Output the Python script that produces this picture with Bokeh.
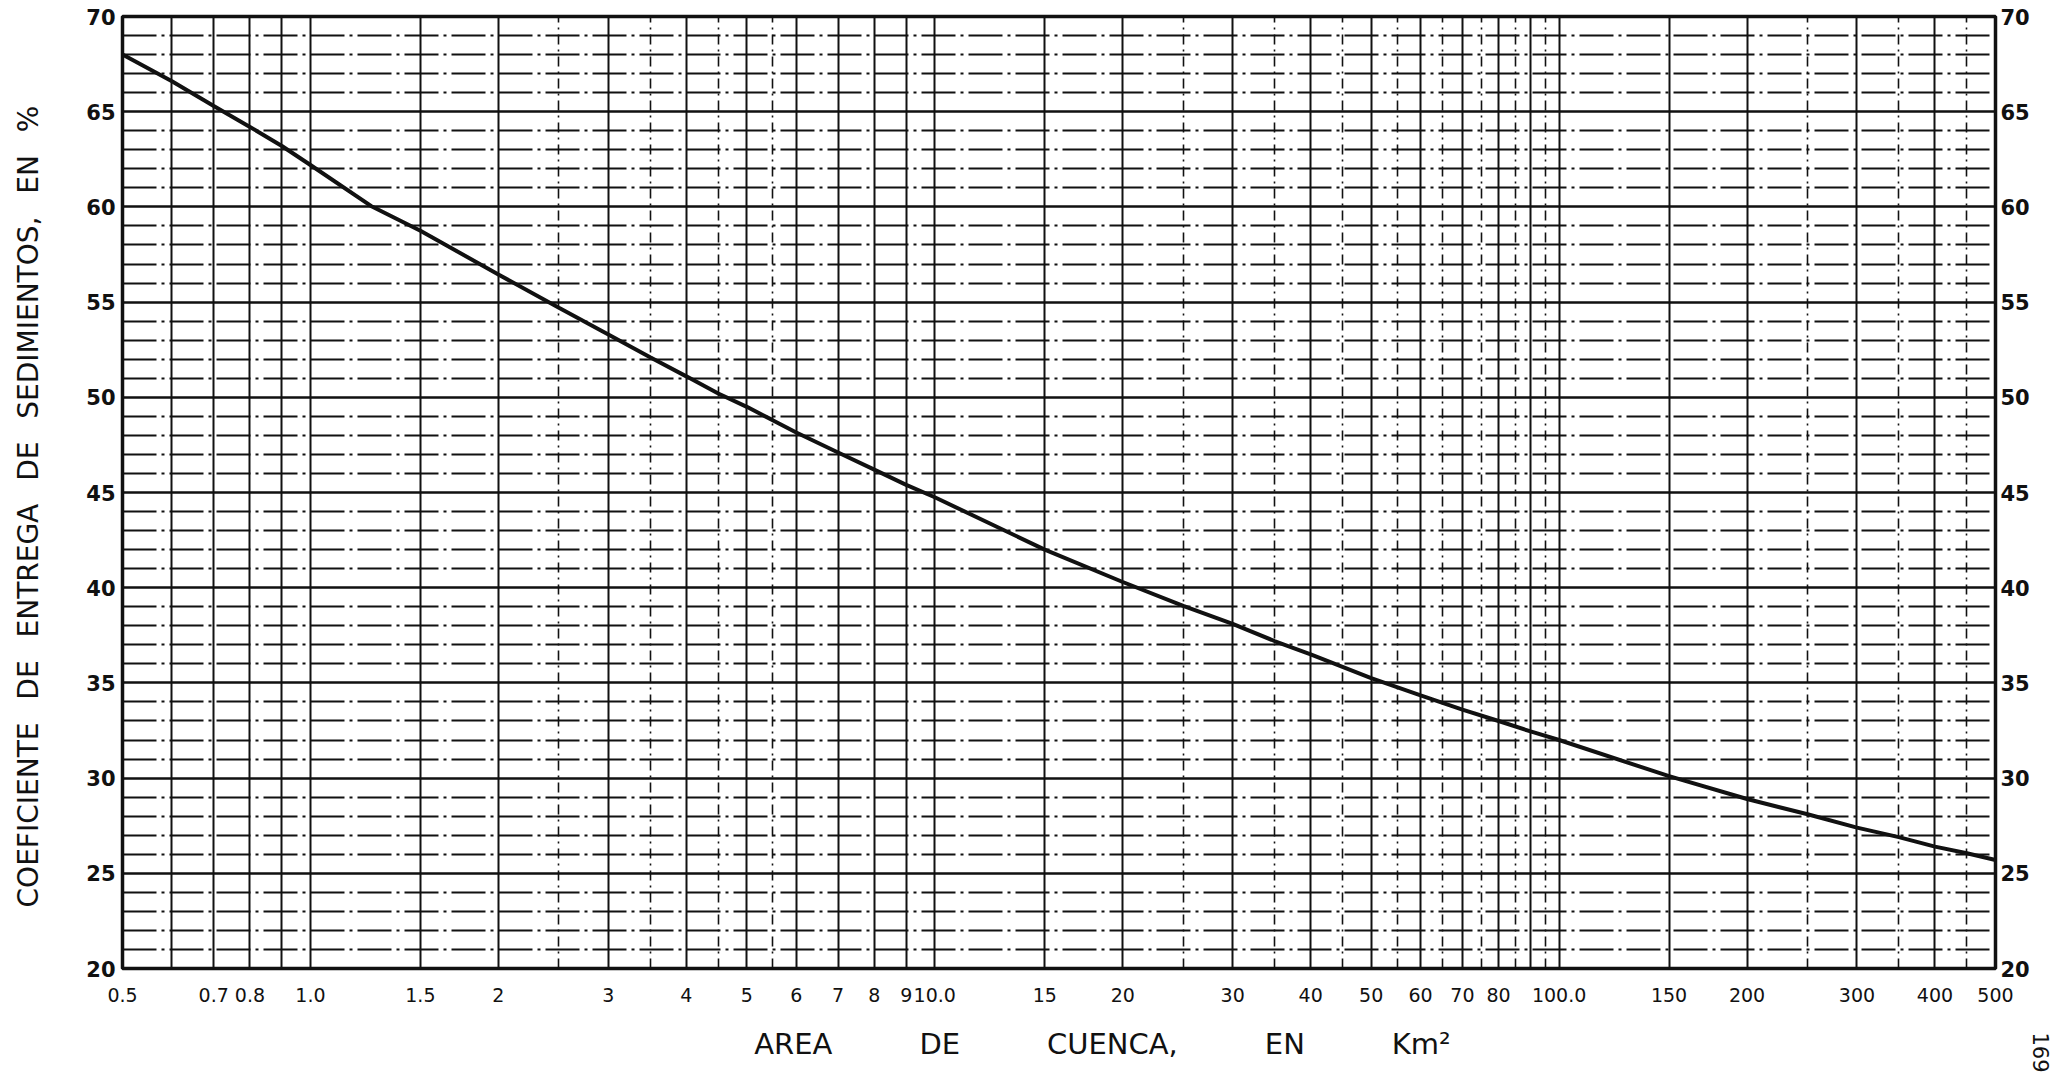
import numpy as np
from bokeh.plotting import figure
from bokeh.models import Range1d, FixedTicker, LinearAxis, Grid, Title
from bokeh.embed import file_html
from bokeh.resources import INLINE

# ---- data ----
area_km2 = [0.5, 0.6, 0.7, 0.8, 0.9, 1.0, 1.25, 1.5, 2, 2.5, 3, 3.5, 4, 4.5, 5, 5.5, 6, 7, 8, 9, 10,
            15, 20, 25, 30, 35, 40, 50, 60, 70, 80, 90, 100, 150, 200, 250, 300, 350, 400, 450, 500]
coef_pct = [68.0, 66.6, 65.3, 64.2, 63.2, 62.2, 60.05, 58.75, 56.45, 54.7, 53.3, 52.1, 51.1, 50.2, 49.5,
            48.8, 48.15, 47.1, 46.2, 45.4, 44.75, 42.0, 40.3, 39.05, 38.1, 37.2, 36.5, 35.25, 34.35,
            33.6, 33.0, 32.45, 32.0, 30.1, 28.9, 28.1, 27.4, 26.9, 26.4, 26.05, 25.7]

x_tick_values = [0.5, 0.7, 0.8, 1, 1.5, 2, 3, 4, 5, 6, 7, 8, 9, 10, 15, 20, 30, 40, 50, 60, 70, 80,
                 100, 150, 200, 300, 400, 500]
x_tick_labels = ["0.5", "0.7", "0.8", "1.0", "1.5", "2", "3", "4", "5", "6", "7", "8", "9", "10.0",
                 "15", "20", "30", "40", "50", "60", "70", "80", "100.0", "150", "200", "300", "400", "500"]
y_tick_values = [20, 25, 30, 35, 40, 45, 50, 55, 60, 65, 70]

x_grid_solid = [0.6, 0.7, 0.8, 0.9, 1, 1.5, 2, 3, 4, 5, 6, 7, 8, 9, 10, 15, 20, 30, 40, 50, 60, 70,
                80, 90, 100, 150, 200, 300, 400]
x_grid_dashed = [2.5, 3.5, 4.5, 5.5, 25, 35, 45, 55, 65, 75, 85, 95, 250, 350, 450]
y_grid_major = [25, 30, 35, 40, 45, 50, 55, 60, 65]
y_grid_minor = [21, 22, 23, 24, 26, 27, 28, 29, 31, 32, 33, 34, 36, 37, 38, 39, 41, 42, 43, 44,
                46, 47, 48, 49, 51, 52, 53, 54, 56, 57, 58, 59, 61, 62, 63, 64, 66, 67, 68, 69]

EM = "\u2003"
EN = "\u2002"
x_title = EM * 3 + (EM * 3).join(["AREA", "DE", "CUENCA,", "EN", "Km\u00b2"])
y_title = (" " + EN).join(["COEFICIENTE", "DE", "ENTREGA", "DE", "SEDIMIENTOS,", "EN", "%"]) + EM
page_number = "169"

INK = "#111111"
FONT = "DejaVu Sans"

p = figure(width=2051, height=1076, x_axis_type="log",
           x_range=Range1d(0.5, 500), y_range=Range1d(20, 70),
           output_backend="svg", toolbar_location=None,
           min_border_left=122, min_border_right=56, min_border_top=16, min_border_bottom=108,
           background_fill_color="white", border_fill_color="white")

p.outline_line_color = INK
p.outline_line_width = 3.5

# grids
p.xgrid.ticker = FixedTicker(ticks=x_grid_solid)
p.xgrid.grid_line_color = INK
p.xgrid.grid_line_width = 2
p.xgrid.grid_line_alpha = 1.0

p.add_layout(Grid(dimension=0, ticker=FixedTicker(ticks=x_grid_dashed),
                  grid_line_color=INK, grid_line_width=1.6, grid_line_dash="10 5 2 5"))

p.ygrid.ticker = FixedTicker(ticks=y_grid_major)
p.ygrid.grid_line_color = INK
p.ygrid.grid_line_width = 2.6
p.ygrid.grid_line_alpha = 1.0

p.add_layout(Grid(dimension=1, ticker=FixedTicker(ticks=y_grid_minor),
                  grid_line_color=INK, grid_line_width=2, grid_line_dash="34 5 3 5"))

# curve
p.line(area_km2, coef_pct, line_color=INK, line_width=4)

# x axis
xa = p.xaxis[0]
xa.ticker = FixedTicker(ticks=x_tick_values, minor_ticks=[])
xa.major_label_overrides = dict(zip(x_tick_values, x_tick_labels))
xa.axis_line_color = None
xa.major_tick_line_color = None
xa.minor_tick_line_color = None
xa.major_tick_out = 0
xa.major_label_standoff = 19
xa.major_label_text_font = FONT
xa.major_label_text_font_size = "19px"
xa.major_label_text_color = INK
xa.axis_label = x_title
xa.axis_label_text_font = FONT
xa.axis_label_text_font_style = "normal"
xa.axis_label_text_font_size = "29px"
xa.axis_label_text_color = INK
xa.axis_label_standoff = 22

# left y axis
ya = p.yaxis[0]
ya.ticker = FixedTicker(ticks=y_tick_values, minor_ticks=[])
ya.axis_line_color = None
ya.major_tick_line_color = None
ya.minor_tick_line_color = None
ya.major_tick_out = 0
ya.major_label_standoff = 7
ya.major_label_text_font = FONT
ya.major_label_text_font_style = "bold"
ya.major_label_text_font_size = "21px"
ya.major_label_text_color = INK
ya.axis_label = y_title
ya.axis_label_text_font = FONT
ya.axis_label_text_font_style = "normal"
ya.axis_label_text_font_size = "28px"
ya.axis_label_text_color = INK
ya.axis_label_standoff = 38

# right y axis
ra = LinearAxis(ticker=FixedTicker(ticks=y_tick_values, minor_ticks=[]))
ra.axis_line_color = None
ra.major_tick_line_color = None
ra.minor_tick_line_color = None
ra.major_tick_out = 0
ra.major_label_standoff = 5
ra.major_label_text_font = FONT
ra.major_label_text_font_style = "bold"
ra.major_label_text_font_size = "21px"
ra.major_label_text_color = INK
p.add_layout(ra, "right")

# page number (rotated, bottom-right corner of the sheet)
p.add_layout(Title(text=page_number, align="right", offset=-104, standoff=0,
                   text_font=FONT, text_font_size="21px", text_font_style="normal",
                   text_color=INK), "right")

open("out.html", "w").write(file_html(p, INLINE))
